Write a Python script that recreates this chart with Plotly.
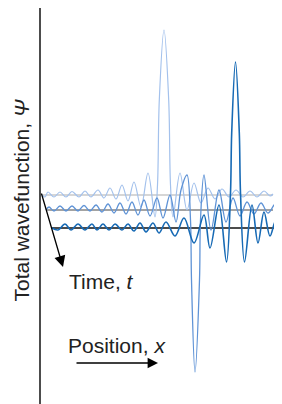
import plotly.graph_objects as go

# ---- data: extrema / outline points of three wavefunction snapshots (position, psi) ----
t0_x = [42, 45, 48, 54, 60, 66, 72, 79, 85, 91, 98, 104, 110, 116, 122, 128, 134, 141, 148, 155,
        157.5, 159.3, 164, 168.7, 170.5, 173, 180, 187, 194, 201, 208, 215, 222, 229, 236, 243,
        250, 257, 264, 270, 273]
t0_psi = [0, -2, 3, -2, 3, -2, 3.5, -2, 4, -2, 5, -3, 7, -4, 10, -6, 13, -12, 22, -22,
          10, 95, 165, 95, 10, -22, 22, -15, 12, -8, 7, -4, 6, -2, 5, -2,
          4, -2, 4, -1, 1]

t1_x = [46, 49, 54, 60, 66, 72, 78, 84, 90, 96, 102, 108, 114, 120, 126, 132, 138, 144, 150, 157,
        163, 170, 176, 181, 187, 190.5, 191.5, 195, 199.5, 200.5, 204, 211, 219, 226, 233, 240,
        247, 254, 261, 268, 275, 279]
t1_psi = [0, 3, -1, 4, -1, 4, -1, 4.5, -1, 5, -2, 6, -3, 7, -4, 8, -5, 10, -6, 12,
          -8, 15, -12, 20, 35, -10, -70, -162, -70, -10, 35, -20, 20, -12, 12, -6,
          8, -4, 7, -3, 6, 7]

t2_x = [52, 58, 65, 71, 78, 85, 92, 97, 103, 109, 115, 122, 128, 134, 140, 146, 153, 159, 166,
        175, 184, 194, 204, 210, 219, 226.5, 230.5, 231.7, 235.5, 239.3, 240.5, 244.5, 252, 258,
        264, 270, 276, 282]
t2_psi = [0, -2, 4, -2, 4, -2, 4, -2, 4, -2, 4, -2, 4, -3, 5, -4, 5, -5, 6,
          -8, 10, -15, 13, -20, 23, -34, 35, 95, 166, 95, 35, -34, 23, -15,
          16, -8, 8, -8]

time_offset = [0, -15, -33]          # projection of the time axis on psi
baseline_start = [42, 46, 52]
baseline_end = [273, 273, 282]

wave_colors = ["#a3c1ec", "#5f93d6", "#176ab5"]
base_colors = ["#c8c8c8", "#858585", "#111111"]
wave_widths = [1.2, 1.3, 1.6]

fig = go.Figure()

for i in range(3):
    fig.add_trace(go.Scatter(x=[baseline_start[i], baseline_end[i]],
                             y=[time_offset[i], time_offset[i]], mode="lines",
                             line=dict(color=base_colors[i], width=1.4),
                             hoverinfo="skip", showlegend=False))

waves = [(t0_x, t0_psi), (t1_x, t1_psi), (t2_x, t2_psi)]
for i, (xs, ps) in enumerate(waves):
    fig.add_trace(go.Scatter(x=xs, y=[p + time_offset[i] for p in ps], mode="lines",
                             line=dict(color=wave_colors[i], width=wave_widths[i],
                                       shape="spline", smoothing=1.0),
                             hoverinfo="skip", showlegend=False))

# vertical psi axis
fig.add_shape(type="line", x0=40, x1=40, y0=-212, y1=187, line=dict(color="black", width=1.4))

font = dict(family="Liberation Sans, Arial, sans-serif", size=21, color="#222")

# time arrow
fig.add_annotation(x=63, y=-72, ax=41, ay=3, xref="x", yref="y", axref="x", ayref="y",
                   showarrow=True, arrowhead=2, arrowsize=1.7, arrowwidth=1.3,
                   arrowcolor="black", text="")
# position arrow
fig.add_annotation(x=158, y=-168, ax=75, ay=-168, xref="x", yref="y", axref="x", ayref="y",
                   showarrow=True, arrowhead=2, arrowsize=1.6, arrowwidth=1.3,
                   arrowcolor="black", text="")

fig.add_annotation(x=67, y=-86, xref="x", yref="y", text="Time, <i>t</i>", showarrow=False,
                   xanchor="left", yanchor="middle", font=font)
fig.add_annotation(x=66, y=-150, xref="x", yref="y", text="Position, <i>x</i>", showarrow=False,
                   xanchor="left", yanchor="middle", font=font)
fig.add_annotation(x=20.5, y=-6, xref="x", yref="y", text="Total wavefunction, <i>Ψ</i>",
                   showarrow=False, textangle=-90, xanchor="center", yanchor="middle",
                   borderpad=0, font=font)

# page body adds an 8px margin, so the figure covers page pixels 8..282 x 8..404
fig.update_layout(width=274, height=396, margin=dict(l=0, r=0, t=0, b=0),
                  paper_bgcolor="white", plot_bgcolor="white",
                  xaxis=dict(range=[8, 282], visible=False, fixedrange=True),
                  yaxis=dict(range=[-209, 187], visible=False, fixedrange=True))

fig.write_html("out.html")
